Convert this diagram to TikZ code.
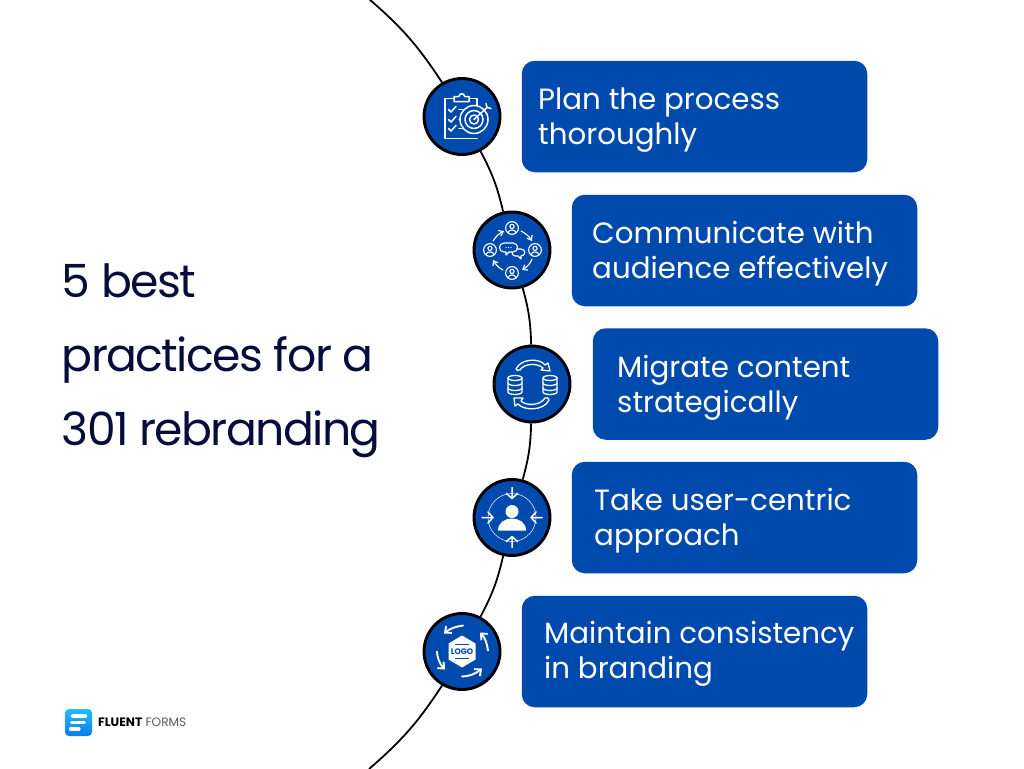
\documentclass[tikz,border=0pt]{standalone}
\usepackage{fontspec}
\setmainfont{Poppins}
\newfontfamily\titlefont[LetterSpace=-3.5]{Poppins}
\usetikzlibrary{arrows.meta,shapes.geometric}
\definecolor{brandblue}{HTML}{004AAD}
\definecolor{ink}{HTML}{060C3C}
\definecolor{greytxt}{HTML}{555B66}
\definecolor{logoa}{HTML}{1FC0F7}
\definecolor{logob}{HTML}{0A7BF0}
\tikzset{
  stepbox/.style={draw=none,fill=brandblue,rounded corners=13pt,minimum width=345.5pt,minimum height=111.5pt,inner sep=0pt},
  steptext/.style={text=white,font=\fontsize{29.3}{35}\selectfont,align=left,anchor=west,inner sep=0pt},
  disc/.style={circle,draw=black,line width=2.9pt,fill=brandblue,minimum size=76pt,inner sep=0pt},
  link/.style={draw=black,line width=1.8pt},
  ico/.style={draw=white,line width=1.5pt,line cap=round,line join=round},
  icoarrow/.style={ico,-{Straight Barb[length=4pt,width=6pt,line width=1.2pt]}},
  bigarrow/.style={draw=white,line width=1.9pt,line cap=round,-{Straight Barb[length=5pt,width=9pt,line width=1.9pt]}},
}
\begin{document}
\begin{tikzpicture}[x=1pt,y=-1pt]
\useasboundingbox (0,0) rectangle (1024,768);
% spine
\coordinate (top) at (369,-1);
\coordinate (bot) at (369,769);
\node[disc] (c1) at (462,116.5) {};
\node[disc] (c2) at (512,250) {};
\node[disc] (c3) at (532,384) {};
\node[disc] (c4) at (512,517.5) {};
\node[disc] (c5) at (462,651.5) {};
\draw[link] (top) to[bend left=8] (c1);
\draw[link] (c1) to[bend left=7.5] (c2);
\draw[link] (c2) to[bend left=7.2] (c3);
\draw[link] (c3) to[bend left=7.2] (c4);
\draw[link] (c4) to[bend left=7.5] (c5);
\draw[link] (c5) to[bend left=8] (bot);
% boxes
\node[stepbox] (b1) at (694.5,116.5) {};
\node[stepbox] (b2) at (744.5,250.5) {};
\node[stepbox] (b3) at (765.5,384) {};
\node[stepbox] (b4) at (744.5,517.5) {};
\node[stepbox] (b5) at (694.5,651.5) {};
\node[steptext] (t1) at (538,120) {Plan the process\\thoroughly};
\node[steptext] (t2) at (592,254) {Communicate with\\audience effectively};
\node[steptext] (t3) at (617,388) {Migrate content\\strategically};
\node[steptext] (t4) at (594,521) {Take user-centric\\approach};
\node[steptext] (t5) at (544,654) {Maintain consistency\\in branding};
% title
\node[text=ink,font=\titlefont\fontsize{45.7}{74}\selectfont,align=left,anchor=west,inner sep=0pt] (title) at (61.5,361) {5 best\\practices for a\\301 rebranding};
% icon 1
\begin{scope}[shift={(c1)}]
  \draw[ico] (-8,-18) -- (-17,-18) -- (-17,22) -- (15,22);
  \draw[ico] (8,-18) -- (15,-18) -- (15,-10);
  \draw[ico] (-8,-15) -- (-8,-20) -- (-3,-20) arc[start angle=180,end angle=0,radius=2.8pt] -- (7,-20) -- (7,-15) -- cycle;
  \foreach \y in {-7,3,12} {
    \draw[ico] (-13.5,\y) -- (-11,\y+2.5) -- (-6,\y-3);
  }
  \draw[ico] (-3,-7) -- (0,-7) (-3,3) -- (-1,3) (-3,12) -- (1,12);
  \draw[ico,fill=brandblue] (12,3) circle[radius=14pt];
  \draw[ico] (12,3) circle[radius=9pt];
  \draw[ico] (12,3) circle[radius=4.5pt];
  \draw[ico] (12,3) -- (25,-9);
  \draw[ico] (24,-13) -- (25,-9) -- (29,-8);
\end{scope}
% icon 2
\begin{scope}[shift={(c2)}]
  \foreach \px/\py in {0/-22,23/0,0/23,-22/0} {
    \begin{scope}[shift={(\px,\py)}]
      \draw[ico,line width=1.1pt] (0,0) circle[radius=6.4pt];
      \draw[ico,line width=1.1pt] (0,-1.6) circle[radius=2.1pt];
      \draw[ico,line width=1.1pt] (-3.8,4.6) .. controls (-3.4,1) and (3.4,1) .. (3.8,4.6);
    \end{scope}
  }
  \draw[icoarrow,line width=1.1pt] (-19,-9) .. controls (-16,-14) and (-12,-17) .. (-8,-19);
  \draw[icoarrow,line width=1.1pt] (9,-19) .. controls (13,-17) and (17,-14) .. (20,-9);
  \draw[icoarrow,line width=1.1pt] (20,9) .. controls (18,14) and (15,17) .. (10,20);
  \draw[icoarrow,line width=1.1pt] (-9,20) .. controls (-13,18) and (-16,15) .. (-19,10);
  \draw[ico,line width=1.1pt] (-8,-7) -- (1,-7) .. controls (7,-7) and (7,2) .. (1,2) -- (-3,2) -- (-6,5) -- (-6,2) -- (-8,2) .. controls (-14,2) and (-14,-7) .. (-8,-7) -- cycle;
  \draw[ico,line width=1.1pt] (5,-1) -- (9,-1) .. controls (14,-1) and (14,6) .. (9,6) -- (9,9) -- (6,6) -- (3,6) .. controls (1,6) and (0,4) .. (0,2);
  \fill[white] (-6,-2.5) circle[radius=.7pt] (-3.5,-2.5) circle[radius=.7pt] (-1,-2.5) circle[radius=.7pt];
\end{scope}
% icon 3
\begin{scope}[shift={(c3)}]
  \foreach \sx in {-17,18} {
    \draw[ico,line width=1.3pt] (\sx-7,-6) -- (\sx-7,8) arc[start angle=180,end angle=360,x radius=7pt,y radius=2.5pt] -- (\sx+7,-6);
    \draw[ico,line width=1.3pt] (\sx,-6) ellipse[x radius=7pt,y radius=2.5pt];
    \draw[ico,line width=1.3pt] (\sx-7,-1) arc[start angle=180,end angle=360,x radius=7pt,y radius=2.5pt];
    \draw[ico,line width=1.3pt] (\sx-7,4) arc[start angle=180,end angle=360,x radius=7pt,y radius=2.5pt];
  }
  \draw[ico,line width=1.3pt] (-16,-15) .. controls (-11,-26) and (8,-26) .. (13,-19) -- (16,-21) -- (18,-13) -- (9,-14) -- (11,-16) .. controls (6,-21) and (-8,-21) .. (-12,-14) .. controls (-14,-13) and (-16,-14) .. (-16,-15) -- cycle;
  \draw[ico,line width=1.3pt] (17,16) .. controls (12,27) and (-8,27) .. (-14,20) -- (-17,22) -- (-18,14) -- (-9,14) -- (-11,17) .. controls (-6,22) and (8,22) .. (13,14) .. controls (15,13) and (17,14) .. (17,16) -- cycle;
\end{scope}
% icon 4
\begin{scope}[shift={(c4)}]
  \draw[white,line width=.5pt] (0,0) circle[radius=24pt];
  \foreach \a in {0,90,180,270} {
    \begin{scope}[rotate=\a]
      \draw[ico] (30,0) -- (19,0) (24,-5.5) -- (19,0) -- (24,5.5);
    \end{scope}
  }
  \fill[white] (0,-6) circle[radius=6.5pt];
  \fill[white] (-14,13) .. controls (-14,5) and (-7,1) .. (0,1) .. controls (7,1) and (14,5) .. (14,13) -- cycle;
\end{scope}
% icon 5
\begin{scope}[shift={(c5)}]
  \fill[white] (0,-16) -- (13.5,-8) -- (13.5,8) -- (0,16) -- (-13.5,8) -- (-13.5,-8) -- cycle;
  \node[text=brandblue,font=\fontsize{8}{8}\bfseries\selectfont,inner sep=0pt] (logo) at (0,0) {LOGO};
  \draw[brandblue,line width=.9pt] (-7,-7) -- (7,-7) (-7,6.5) -- (7,6.5);
  \draw[bigarrow] (1,-26) .. controls (-6,-25) and (-12,-23) .. (-18,-18);
  \draw[bigarrow] (-25,0) .. controls (-25,6) and (-22,13) .. (-17,18);
  \draw[bigarrow] (0,25) .. controls (7,25) and (14,22) .. (20,17);
  \draw[bigarrow] (26,-1) .. controls (25,-8) and (23,-14) .. (18,-19);
\end{scope}
% logo
\shade[top color=logoa,bottom color=logob,rounded corners=4pt] (65,709) rectangle (92,736);
\draw[white,line width=3.2pt,line cap=round] (72.5,716) -- (85.5,716) (71.5,722.5) -- (84.5,722.5) (70.5,729) -- (79,729);
\node[anchor=west,inner sep=0pt,font=\fontsize{12.2}{12}\selectfont] (brand) at (98,722) {\textbf{FLUENT} \textcolor{greytxt}{FORMS}};
\end{tikzpicture}
\end{document}
